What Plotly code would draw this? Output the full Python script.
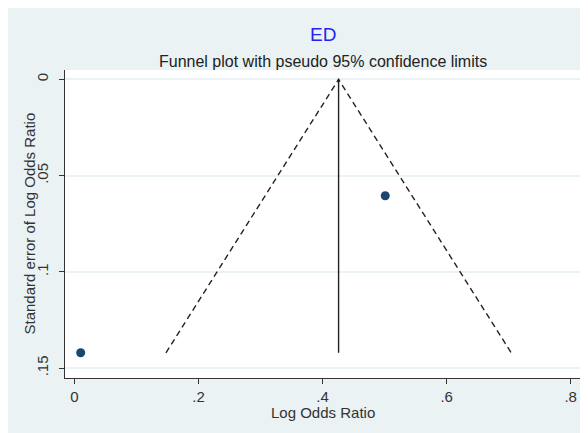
import numpy as np
import plotly.graph_objects as go

# ---- data ----
log_or = [0.010, 0.501]          # Log Odds Ratio of each study
se_log_or = [0.142, 0.0604]      # Standard error of Log Odds Ratio
x_tick_vals = [0, 0.2, 0.4, 0.6, 0.8]
x_tick_text = ["0", ".2", ".4", ".6", ".8"]
y_tick_vals = [0, 0.05, 0.1, 0.15]
y_tick_text = ["0", ".05", ".1", ".15"]
z95 = 1.96

# pooled (fixed-effect) estimate and pseudo 95% limits
w = 1 / np.array(se_log_or) ** 2
theta = float(np.sum(w * np.array(log_or)) / np.sum(w))
se_max = max(se_log_or)
funnel_x = [theta - z95 * se_max, theta, theta + z95 * se_max]
funnel_y = [se_max, 0, se_max]

FONT = "Liberation Sans, Arial, sans-serif"
BG = "#EAF2F3"
TXT = "#333333"

fig = go.Figure()
fig.add_trace(go.Scatter(x=funnel_x, y=funnel_y, mode="lines",
                         line=dict(color="#222222", width=1.4, dash="6px,4px"),
                         hoverinfo="skip", showlegend=False))
fig.add_trace(go.Scatter(x=[theta, theta], y=[0, se_max], mode="lines",
                         line=dict(color="#222222", width=1.4),
                         hoverinfo="skip", showlegend=False))
fig.add_trace(go.Scatter(x=log_or, y=se_log_or, mode="markers",
                         marker=dict(color="#1a476f", size=9),
                         showlegend=False))

W, H = 588, 433
L, R, T, B = 57, 16, 62, 63
pw, ph = W - L - R, H - T - B

def px_x(p):
    return (p - L) / pw

def px_y(p):
    return (H - B - p) / ph

fig.update_layout(
    width=W, height=H,
    margin=dict(l=L, r=R, t=T, b=B),
    paper_bgcolor=BG,
    plot_bgcolor="white",
    font=dict(family=FONT, size=15, color=TXT),
    annotations=[
        dict(text="ED", xref="paper", yref="paper", x=0.5, y=px_y(26.5),
             xanchor="center", yanchor="middle", showarrow=False,
             font=dict(family=FONT, size=19, color="#2424F2")),
        dict(text="Funnel plot with pseudo 95% confidence limits",
             xref="paper", yref="paper", x=0.5, y=px_y(53.5),
             xanchor="center", yanchor="middle", showarrow=False,
             font=dict(family=FONT, size=16, color="#222222")),
        dict(text="Log Odds Ratio", xref="paper", yref="paper", x=0.5,
             y=px_y(405), xanchor="center", yanchor="middle", showarrow=False,
             font=dict(family=FONT, size=15, color=TXT)),
        dict(text="Standard error of Log Odds Ratio", xref="paper", yref="paper",
             x=px_x(20.5), y=0.5, xanchor="center", yanchor="middle",
             textangle=-90, showarrow=False,
             font=dict(family=FONT, size=15, color=TXT)),
    ],
    xaxis=dict(range=[-0.0153, 0.815], tickvals=x_tick_vals, ticktext=x_tick_text,
               showgrid=False, zeroline=False, showline=True, linecolor=TXT,
               linewidth=1, ticks="outside", ticklen=5, tickcolor=TXT,
               tickfont=dict(size=15, color=TXT)),
    yaxis=dict(range=[0.1551, -0.0049], tickvals=y_tick_vals, ticktext=y_tick_text,
               showgrid=True, gridcolor=BG, gridwidth=1.5, zeroline=False,
               showline=True, linecolor=TXT, linewidth=1,
               ticks="outside", ticklen=5, tickcolor=TXT, tickangle=-90,
               ticklabelstandoff=5,
               tickfont=dict(size=15, color=TXT)),
)

fig.write_html("out.html")
